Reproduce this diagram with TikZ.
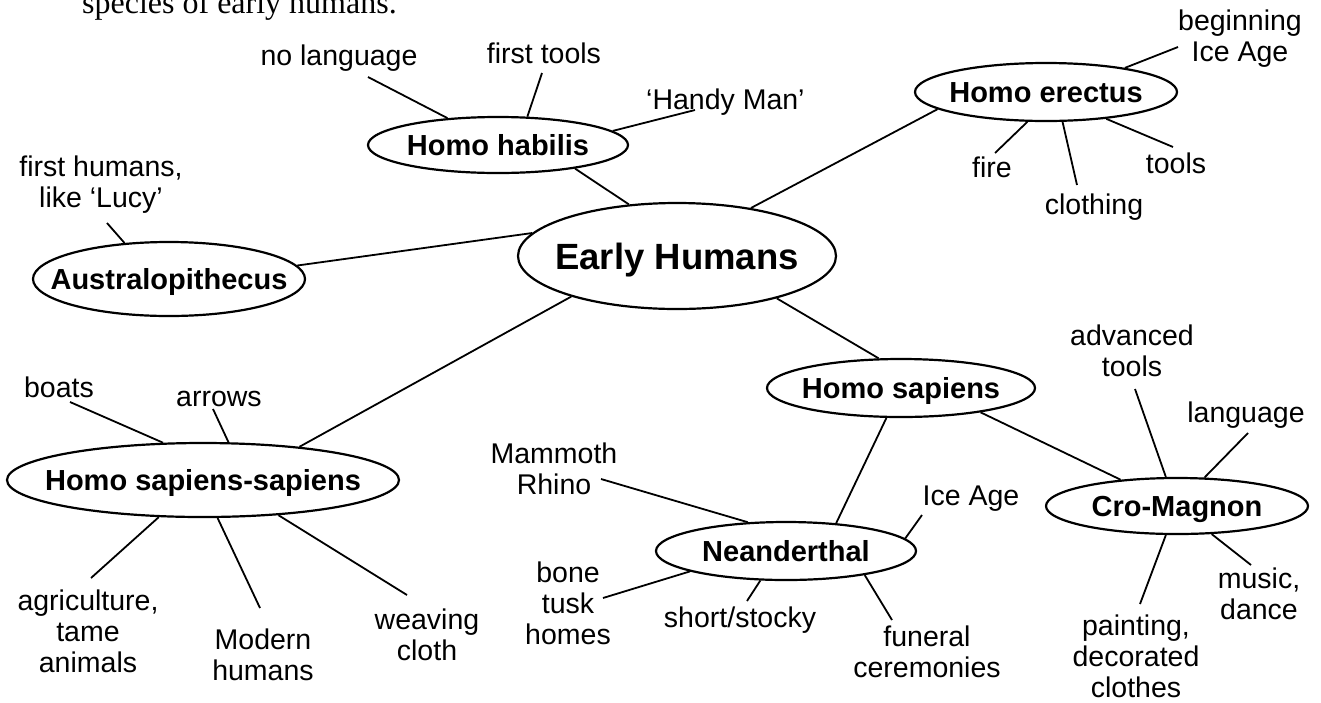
\documentclass[tikz,border=0pt]{standalone}
\usepackage{fontspec}
\setmainfont{Liberation Sans}
\newfontfamily\serifont{Liberation Serif}
\usetikzlibrary{shapes.geometric}
\newcommand\ctext[1]{\makebox[0pt]{\raisebox{-0.36em}[0pt][0pt]{#1}}}
\begin{document}
\begin{tikzpicture}[x=1pt,y=-1pt,
  ell/.style={ellipse, draw, line width=2.2pt, inner sep=0pt, font=\fontsize{29}{34}\selectfont\bfseries},
  lbl/.style={font=\fontsize{28.5}{31}\selectfont, align=center, anchor=base, inner sep=0pt},
  con/.style={line width=1.8pt}]
\fill[white] (0,0) rectangle (1321,702);
\useasboundingbox (0,0) rectangle (1321,702);

% heading fragment (cut off)
\node[anchor=base west, inner sep=0pt, font=\serifont\fontsize{32}{36}\selectfont] (head) at (82,13) {species of early humans.};

% concept ellipses
\node[ell, minimum width=318pt, minimum height=106pt, font=\fontsize{36.5}{40}\selectfont\bfseries] (eh) at (677,256) {\ctext{Early Humans}};
\node[ell, minimum width=260pt, minimum height=56pt] (hh) at (498,145) {\ctext{Homo habilis}};
\node[ell, minimum width=272pt, minimum height=74pt] (aus) at (169,279) {\ctext{Australopithecus}};
\node[ell, minimum width=262pt, minimum height=58pt] (he) at (1046,92) {\ctext{Homo erectus}};
\node[ell, minimum width=392pt, minimum height=74pt] (hss) at (203,480) {\ctext{Homo sapiens-sapiens}};
\node[ell, minimum width=260pt, minimum height=58pt] (nea) at (786,551) {\ctext{Neanderthal}};
\node[ell, minimum width=268pt, minimum height=58pt] (hs) at (901,388) {\ctext{Homo sapiens}};
\node[ell, minimum width=262pt, minimum height=56pt] (cm) at (1177,506) {\ctext{Cro-Magnon}};

% labels (anchor = baseline of the last line)
\node[lbl] (lnolang) at (339,65) {no language};
\node[lbl] (lfirsttools) at (544,63) {first tools};
\node[lbl, anchor=base west] (lhandy) at (646,109) {‘Handy Man’};
\node[lbl] (llucy) at (101,207) {first humans,\\like ‘Lucy’};
\node[lbl] (lbegin) at (1240,61) {beginning\\Ice Age};
\node[lbl] (lfire) at (992,177) {fire};
\node[lbl] (lcloth) at (1094,214) {clothing};
\node[lbl] (ltools) at (1176,173) {tools};
\node[lbl] (lboats) at (59,397) {boats};
\node[lbl] (larrows) at (219,406) {arrows};
\node[lbl] (lagri) at (88,672) {agriculture,\\tame\\animals};
\node[lbl] (lmodern) at (263,680) {Modern\\humans};
\node[lbl] (lweav) at (427,660) {weaving\\cloth};
\node[lbl] (lmamm) at (554,494) {Mammoth\\Rhino};
\node[lbl] (lbone) at (568,644) {bone\\tusk\\homes};
\node[lbl] (lshort) at (740,627) {short/stocky};
\node[lbl] (lice) at (971,505) {Ice Age};
\node[lbl] (lfun) at (927,677) {funeral\\ceremonies};
\node[lbl] (ladv) at (1132,376) {advanced\\tools};
\node[lbl] (llang) at (1246,422) {language};
\node[lbl] (lmusic) at (1259,619) {music,\\dance};
\node[lbl] (lpaint) at (1136,697) {painting,\\decorated\\clothes};

% free ends of connectors
\coordinate (c1) at (368,77);
\coordinate (c2) at (542,73);
\coordinate (c3) at (695,110);
\coordinate (c4) at (107,223);
\coordinate (c5) at (1178,47);
\coordinate (c6) at (995,153);
\coordinate (c7) at (1077,185);
\coordinate (c8) at (1173,147);
\coordinate (c9) at (70,402);
\coordinate (c10) at (213,409);
\coordinate (c11) at (91,578);
\coordinate (c12) at (260,608);
\coordinate (c13) at (407,595);
\coordinate (c14) at (601,479);
\coordinate (c15) at (603,598);
\coordinate (c16) at (747,601);
\coordinate (c17) at (922,515);
\coordinate (c18) at (892,620);
\coordinate (c19) at (1135,389);
\coordinate (c20) at (1248,433);
\coordinate (c21) at (1251,565);
\coordinate (c22) at (1140,604);

% connectors
\draw[con] (c1) -- (hh.152);
\draw[con] (c2) -- (hh.44);
\draw[con] (c3) -- (hh.7.5);
\draw[con] (hh.343) -- (eh.133);
\draw[con] (c4) -- (aus.141);
\draw[con] (aus.6) -- (eh.171.5);
\draw[con] (eh.33) -- (he.189);
\draw[con] (eh.337) -- (hs.127);
\draw[con] (eh.201) -- (hss.19);
\draw[con] (c5) -- (he.17);
\draw[con] (c6) -- (he.238.5);
\draw[con] (c7) -- (he.299);
\draw[con] (c8) -- (he.336);
\draw[con] (c9) -- (hss.137);
\draw[con] (c10) -- (hss.56);
\draw[con] (c11) -- (hss.220);
\draw[con] (c12) -- (hss.291);
\draw[con] (c13) -- (hss.335);
\draw[con] (c14) -- (nea.143);
\draw[con] (c15) -- (nea.192);
\draw[con] (c16) -- (nea.229);
\draw[con] (c17) -- (nea.6);
\draw[con] (c18) -- (nea.343.5);
\draw[con] (nea.29) -- (hs.244);
\draw[con] (hs.343) -- (cm.155.6);
\draw[con] (c19) -- (cm.111);
\draw[con] (c20) -- (cm.46);
\draw[con] (c21) -- (cm.321);
\draw[con] (c22) -- (cm.249);
\end{tikzpicture}
\end{document}
